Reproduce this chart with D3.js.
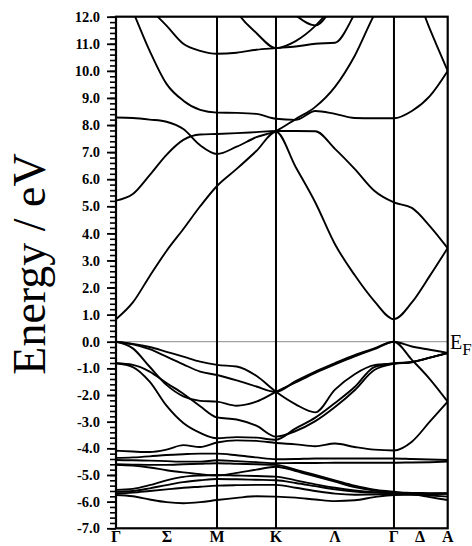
<!DOCTYPE html>
<html>
<head>
<meta charset="utf-8">
<script src="https://cdn.jsdelivr.net/npm/d3@7"></script>
<style>
  body { margin: 0; background: #fff; }
  text { font-family: "Liberation Serif", "Times New Roman", serif; }
</style>
</head>
<body>
<svg id="chart" width="472" height="546"></svg>
<script>
// k-path: high symmetry points and where the labels sit (units of |Gamma-M|)
const kTicks = [0, 1, 1.584, 2.752, 3.284];
const kSteps = [6, 3, 6, 3];           // samples per segment
const kLabels = ["Γ", "Σ", "M", "K", "Λ", "Γ", "Δ", "A"];
const kLabelPos = [0, 0.505, 1, 1.584, 2.168, 2.752, 3.01, 3.284];
const energyTicks = d3.range(-7, 12.01, 1);

// energies (eV) at the sampled k points, read off the picture
// conduction bands
const conductionBands = [
  [0.83, 1.45, 2.42, 3.35, 4.16, 5.0, 5.75, 6.38, 7.04, 7.75, 6.45, 5.14, 3.6, 2.46, 1.5, 0.83, 1.45, 2.43, 3.46],
  [5.21, 5.45, 6.15, 6.9, 7.45, 7.65, 7.67, 7.7, 7.74, 7.78, 7.78, 7.77, 7.12, 6.38, 5.57, 5.14, 4.94, 4.27, 3.45],
  [8.28, 8.26, 8.2, 8.12, 7.85, 7.25, 6.93, 7.2, 7.55, 7.78, 8.22, 8.67, 9.41, 10.55, 12.07, 13.2, 14, 14.5, 15],
  [13.6, 12.2, 10.74, 9.52, 8.9, 8.56, 8.46, 8.45, 8.41, 8.23, 8.19, 8.52, 8.41, 8.26, 8.25, 8.25, 8.52, 9.07, 10.0],
  [13.6, 13.0, 12.3, 11.67, 11.0, 10.74, 10.63, 10.67, 10.78, 10.84, 10.9, 11.0, 11.04, 12.1, 13.5, 14.5, 15, 15, 15],
  [15, 15, 15, 15, 15, 14.5, 13.8, 12.2, 11.4, 10.84, 11.1, 11.66, 12.5, 13.5, 14.5, 15, 15, 15, 15],
  [null, null, null, null, null, null, null, null, null, null, 12.05, 11.68, 12.6, null, null, null, null, null, null],
  [null, null, null, null, null, null, null, null, null, null, null, null, null, null, null, 14, 13.2, 11.55, 10.0]
];

// valence bands
const valenceBands = [
  [0, -0.08, -0.2, -0.38, -0.56, -0.75, -0.87, -0.93, -1.28, -1.88, -2.35, -2.65, -1.8, -1.22, -0.88, -0.82, -0.76, -0.6, -0.42],
  [0, -0.1, -0.28, -0.56, -0.85, -1.12, -1.25, -1.45, -1.68, -1.88, -1.48, -1.12, -0.8, -0.5, -0.25, 0, -0.18, -0.3, -0.42],
  [0, -0.25, -0.94, -1.62, -2.05, -2.22, -2.25, -2.4, -2.25, -1.88, -1.53, -1.17, -0.85, -0.55, -0.28, 0, -0.68, -1.4, -2.25],
  [-0.81, -0.87, -1.12, -1.55, -1.95, -2.42, -2.84, -2.92, -3.15, -3.56, -3.35, -2.98, -2.45, -1.82, -1.06, -0.83, -0.77, -0.6, -0.43],
  [-0.81, -0.95, -1.5, -2.4, -3.05, -3.42, -3.62, -3.58, -3.6, -3.68, -3.25, -2.85, -2.3, -1.7, -0.95, -0.81, -0.76, -0.6, -0.43],
  [-4.09, -4.12, -4.14, -4.05, -3.88, -3.95, -3.78, -3.7, -3.72, -3.8, -3.85, -3.92, -3.82, -3.95, -4.05, -4.08, -3.75, -3.0, -2.25],
  [-4.36, -4.34, -4.3, -4.25, -4.22, -4.2, -4.2, -4.26, -4.34, -4.41, -4.4, -4.38, -4.38, -4.38, -4.38, -4.38, -4.4, -4.42, -4.44],
  [-4.44, -4.45, -4.46, -4.48, -4.5, -4.5, -4.45, -4.48, -4.52, -4.56, -4.55, -4.55, -4.54, -4.54, -4.54, -4.54, -4.53, -4.52, -4.5],
  [-4.6, -4.61, -4.62, -4.62, -4.6, -4.58, -4.56, -4.58, -4.6, -4.62, -4.8, -5.0, -5.2, -5.4, -5.55, -5.63, -5.72, -5.83, -5.94],
  [-4.62, -4.65, -4.72, -4.82, -4.9, -4.97, -5.02, -4.92, -4.8, -4.69, -4.85, -5.05, -5.25, -5.45, -5.58, -5.66, -5.72, -5.77, -5.81],
  [-5.56, -5.52, -5.38, -5.2, -5.07, -5.02, -5.0, -5.02, -5.04, -5.06, -5.2, -5.35, -5.48, -5.58, -5.65, -5.69, -5.7, -5.7, -5.7],
  [-5.63, -5.6, -5.5, -5.38, -5.27, -5.2, -5.15, -5.16, -5.18, -5.2, -5.3, -5.42, -5.54, -5.62, -5.66, -5.66, -5.67, -5.68, -5.69],
  [-5.69, -5.66, -5.6, -5.54, -5.48, -5.44, -5.4, -5.38, -5.37, -5.37, -5.48, -5.6, -5.7, -5.74, -5.73, -5.72, -5.72, -5.71, -5.7],
  [-5.75, -5.8, -5.92, -6.02, -6.06, -6.02, -5.94, -5.86, -5.8, -5.81, -5.85, -5.92, -5.98, -5.95, -5.83, -5.75, -5.74, -5.72, -5.69]
];

// sample points along the path
const kGrid = [kTicks[0]];
kSteps.forEach((n, i) => {
  for (let j = 1; j <= n; j++) kGrid.push(kTicks[i] + (kTicks[i + 1] - kTicks[i]) * j / n);
});

const plotLeft = 116, plotRight = 447.7, plotTop = 16.7, plotBottom = 528.3;
const svg = d3.select("#chart");

const x = d3.scaleLinear().domain([kTicks[0], kTicks[kTicks.length - 1]]).range([plotLeft, plotRight]);
// the picture is not quite linear, so three stops
const y = d3.scaleLinear().domain([-7, 0, 12]).range([plotBottom, 341.7, plotTop]);

svg.append("clipPath").attr("id", "plotclip")
  .append("rect")
  .attr("x", plotLeft).attr("y", plotTop)
  .attr("width", plotRight - plotLeft).attr("height", plotBottom - plotTop);

// fermi level
svg.append("line")
  .attr("x1", plotLeft).attr("x2", plotRight)
  .attr("y1", y(0)).attr("y2", y(0))
  .attr("stroke", "#8c8c8c")
  .attr("stroke-width", 1);

const line = d3.line()
  .defined(d => d != null)
  .x((d, i) => x(kGrid[i]))
  .y(d => y(d))
  .curve(d3.curveMonotoneX);

svg.append("g")
  .attr("clip-path", "url(#plotclip)")
  .selectAll("path")
  .data(conductionBands.concat(valenceBands))
  .enter()
  .append("path")
  .attr("d", line)
  .attr("fill", "none")
  .attr("stroke", "#000")
  .attr("stroke-width", 1.9);

// vertical lines at the inner symmetry points
svg.selectAll("line.kline")
  .data(kTicks.slice(1, -1))
  .enter()
  .append("line")
  .attr("class", "kline")
  .attr("x1", d => x(d)).attr("x2", d => x(d))
  .attr("y1", plotTop).attr("y2", plotBottom)
  .attr("stroke", "#000")
  .attr("stroke-width", 2);

// frame
svg.append("rect")
  .attr("x", plotLeft).attr("y", plotTop)
  .attr("width", plotRight - plotLeft).attr("height", plotBottom - plotTop)
  .attr("fill", "none")
  .attr("stroke", "#000")
  .attr("stroke-width", 2.2);

// y axis: minor ticks then major ticks with labels
const minorAxis = d3.axisLeft(y)
  .tickValues(d3.range(-7, 12.001, 0.2))
  .tickSize(6)
  .tickFormat("");
svg.append("g")
  .attr("transform", `translate(${plotLeft},0)`)
  .call(minorAxis)
  .call(g => g.select(".domain").remove())
  .call(g => g.selectAll("line").attr("stroke-width", 1.6));

const majorAxis = d3.axisLeft(y)
  .tickValues(energyTicks)
  .tickSize(9)
  .tickPadding(7)
  .tickFormat(d => d.toFixed(1));
svg.append("g")
  .attr("transform", `translate(${plotLeft},0)`)
  .call(majorAxis)
  .call(g => g.select(".domain").remove())
  .call(g => g.selectAll("line").attr("stroke-width", 1.8))
  .call(g => g.selectAll("text")
    .attr("font-family", "'Liberation Serif', serif")
    .attr("font-weight", "bold")
    .attr("font-size", 14.5)
    .attr("fill", "#000"));

// k labels
svg.selectAll("text.klabel")
  .data(kLabels)
  .enter()
  .append("text")
  .attr("class", "klabel")
  .attr("x", (d, i) => x(kLabelPos[i]))
  .attr("y", 542)
  .attr("text-anchor", "middle")
  .attr("font-weight", "bold")
  .attr("font-size", 16)
  .text(d => d);

// axis title
svg.append("text")
  .attr("transform", "translate(45,264) rotate(-90)")
  .attr("text-anchor", "middle")
  .attr("font-size", 46)
  .text("Energy / eV");

// E_F marker
const ef = svg.append("text")
  .attr("x", 450)
  .attr("y", y(0) + 7)
  .attr("font-size", 20);
ef.append("tspan").text("E");
ef.append("tspan").attr("font-size", 17).attr("dy", 6).text("F");
</script>
</body>
</html>
